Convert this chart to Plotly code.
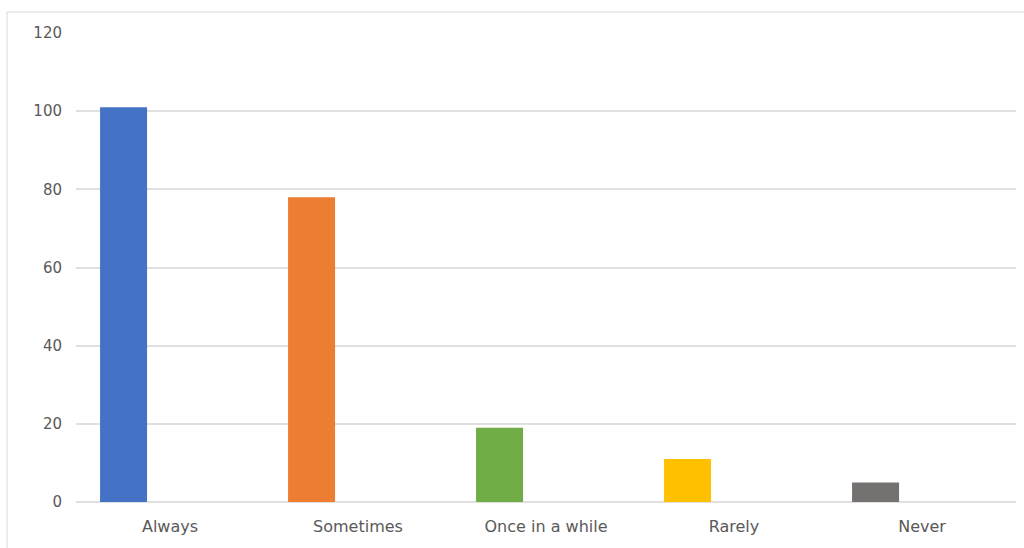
import plotly.graph_objects as go

categories = ["Always", "Sometimes", "Once in a while", "Rarely", "Never"]
values = [101, 78, 19, 11, 5]
colors = ["#4472C4", "#ED7D31", "#70AD47", "#FFC000", "#767171"]
y_ticks = [0, 20, 40, 60, 80, 100, 120]

fig = go.Figure()
fig.add_trace(go.Bar(
    x=categories, y=values,
    marker=dict(color=colors, line=dict(width=0)),
    width=0.25, offset=-0.372,
    showlegend=False,
))

fig.update_layout(
    width=1024, height=548,
    margin=dict(l=76, r=8, t=33, b=46),
    paper_bgcolor="white", plot_bgcolor="white",
    font=dict(family="DejaVu Sans", size=15, color="#595959"),
    xaxis=dict(showgrid=False, showline=False, ticks="", ticklabelstandoff=13,
               tickfont=dict(size=16, color="#595959")),
    yaxis=dict(range=[0, 120], tickvals=y_ticks, showgrid=True, gridcolor="#E0E0E0", gridwidth=1.5,
               zeroline=True, zerolinecolor="#E0E0E0", zerolinewidth=1.5,
               showline=False, ticks="", ticklabelstandoff=13,
               tickfont=dict(size=15, color="#595959")),
    shapes=[dict(type="rect", xref="paper", yref="paper",
                 x0=(7 - 76) / 940, x1=1.05, y0=-0.2, y1=1 + (33 - 12) / 469,
                 line=dict(color="#D9D9D9", width=1), fillcolor="rgba(0,0,0,0)", layer="below")],
)

fig.write_html("out.html")
